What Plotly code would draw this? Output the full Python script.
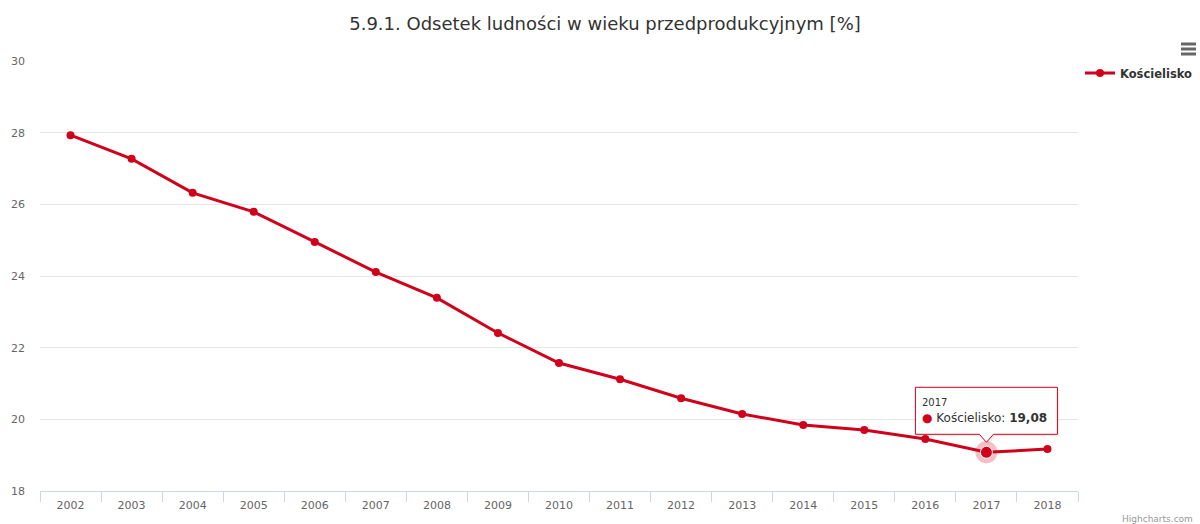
import plotly.graph_objects as go

years = ["2002", "2003", "2004", "2005", "2006", "2007", "2008", "2009", "2010",
         "2011", "2012", "2013", "2014", "2015", "2016", "2017", "2018"]
values = [27.93, 27.27, 26.32, 25.79, 24.95, 24.11, 23.39, 22.41, 21.57,
          21.12, 20.59, 20.15, 19.84, 19.70, 19.45, 19.08, 19.17]
series_name = "Kościelisko"
title_text = "5.9.1. Odsetek ludności w wieku przedprodukcyjnym [%]"
y_ticks = [18, 20, 22, 24, 26, 28, 30]
hl_index = 15

RED = "#d0021b"
FONT = "DejaVu Sans"

W, H = 1200, 524
ML, MR, MT, MB = 40, 122, 61, 33
PW, PH = W - ML - MR, H - MT - MB

def px(x):
    return (x - ML) / PW

def py(y):
    return (H - MB - y) / PH

fig = go.Figure()
fig.add_trace(go.Scatter(
    x=years, y=values, name=series_name, mode="lines+markers",
    line=dict(color=RED, width=3),
    marker=dict(color=RED, size=8),
))
# highlighted point halo
hx, hy = years[hl_index], values[hl_index]
fig.add_trace(go.Scatter(
    x=[hx], y=[hy], mode="markers", showlegend=False,
    marker=dict(color="rgba(208,2,27,0.25)", size=22, line=dict(width=0)),
))
fig.add_trace(go.Scatter(
    x=[hx], y=[hy], mode="markers", showlegend=False,
    marker=dict(color=RED, size=12, line=dict(width=1, color="white")),
))

tip_path = "M -71,18 L -71,65 L 71,65 L 71,18 L 7,18 L 0,10 L -7,18 Z"
shadow_path = "M -69,16 L -69,63 L 73,63 L 73,16 L 9,16 L 2,8 L -5,16 Z"
shapes = [
    dict(type="path", xref="x", yref="y", xsizemode="pixel", ysizemode="pixel",
         xanchor=hl_index, yanchor=hy, path=shadow_path,
         fillcolor="rgba(0,0,0,0.08)", line=dict(width=0), layer="above"),
    dict(type="path", xref="x", yref="y", xsizemode="pixel", ysizemode="pixel",
         xanchor=hl_index, yanchor=hy, path=tip_path,
         fillcolor="rgba(255,255,255,0.95)", line=dict(width=1, color=RED), layer="above"),
]
for yy in (44, 49, 54):
    shapes.append(dict(type="line", xref="paper", yref="paper",
                       x0=px(1181), x1=px(1196), y0=py(yy), y1=py(yy),
                       line=dict(color="#666666", width=3)))

val_text = f"{hy:.2f}".replace(".", ",")
annotations = [
    dict(x=hl_index, y=hy, xref="x", yref="y", text=hx, showarrow=False,
         xanchor="left", yanchor="middle", xshift=-66, yshift=50,
         font=dict(family=FONT, size=10, color="#333333")),
    dict(x=hl_index, y=hy, xref="x", yref="y",
         text=f"<span style='color:{RED}'>●</span> {series_name}: <b>{val_text}</b>",
         showarrow=False, xanchor="left", yanchor="middle", xshift=-66, yshift=34,
         font=dict(family=FONT, size=12, color="#333333")),
    dict(x=px(1195), y=py(519), xref="paper", yref="paper", text="Highcharts.com",
         showarrow=False, xanchor="right", yanchor="middle",
         font=dict(family=FONT, size=9, color="#999999")),
]

fig.update_layout(
    width=W, height=H,
    margin=dict(l=ML, r=MR, t=MT, b=MB, pad=0, autoexpand=False),
    paper_bgcolor="white", plot_bgcolor="white",
    title=dict(text=title_text, x=605 / W, xanchor="center", y=1 - 24 / H, yanchor="middle",
               font=dict(family=FONT, size=18, color="#333333")),
    font=dict(family=FONT, size=11, color="#666666"),
    hovermode=False,
    showlegend=True,
    legend=dict(xref="container", yref="container", x=1080 / W, y=1 - 73 / H,
                xanchor="left", yanchor="middle",
                font=dict(family=FONT, size=11.5, color="#333333", weight="bold"),
                bgcolor="rgba(0,0,0,0)", itemwidth=30),
    xaxis=dict(type="category", categoryorder="array", categoryarray=years,
               showgrid=False, showline=True, linecolor="#ccd6eb", linewidth=1,
               ticks="outside", tickson="boundaries", ticklen=10, tickcolor="#ccd6eb",
               ticklabelstandoff=4,
               tickfont=dict(family=FONT, size=11, color="#666666"),
               range=[-0.5, len(years) - 0.5], zeroline=False),
    yaxis=dict(range=[18, 30], tickvals=y_ticks, showgrid=True, gridcolor="#e6e6e6",
               gridwidth=1, zeroline=False, showline=False, ticks="",
               ticklabelstandoff=14,
               tickfont=dict(family=FONT, size=11, color="#666666")),
    shapes=shapes,
    annotations=annotations,
)

fig.write_html("out.html", config={"displayModeBar": False},
               post_script="document.body.style.margin='0';document.body.style.overflow='hidden';")
